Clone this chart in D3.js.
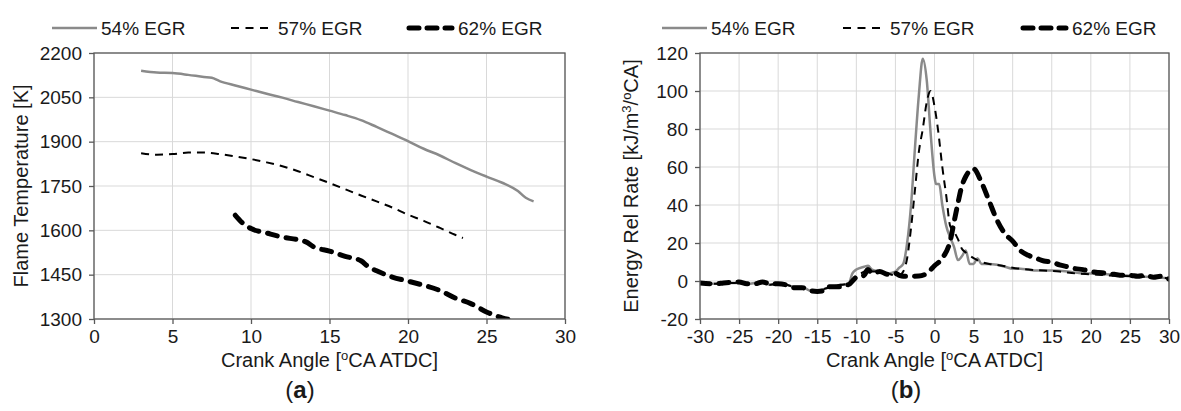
<!DOCTYPE html>
<html>
<head>
<meta charset="utf-8">
<script src="https://cdn.jsdelivr.net/npm/d3@7"></script>
<style>
  html, body { margin: 0; padding: 0; background: #fff; }
  svg { display: block; }
  text { font-family: "Liberation Sans", Arial, sans-serif; fill: #1a1a1a; }
</style>
</head>
<body>
<svg id="fig" width="1181" height="411"></svg>
<script>
// ---- Series labels ----
const seriesNames = ["54% EGR", "57% EGR", "62% EGR"];

// ---- (a) Flame temperature [K] vs crank angle [°CA ATDC] ----
const flame54 = [[3,2140],[4,2134],[5,2132],[6,2126],[7,2119],[7.5,2116],[8,2105],[9,2090],[10,2076],
  [11,2062],[12,2049],[13,2034],[14,2020],[15,2005],[16,1990],[17,1973],[18,1950],[19,1926],[20,1902],
  [21,1876],[22,1854],[23,1828],[24,1804],[25,1782],[26,1761],[27,1733],[27.5,1710],[28,1698]];
const flame57 = [[3,1861],[4,1856],[5,1858],[6,1863],[7,1863],[8,1858],[9,1850],[10,1841],[11,1830],
  [12,1817],[13,1800],[14,1780],[15,1760],[16,1739],[17,1718],[18,1698],[19,1677],[20,1653],[21,1632],
  [22,1609],[23,1585],[23.5,1574]];
const flame62 = [[9,1651],[9.5,1623],[10,1606],[11,1591],[12,1577],[13,1568],[13.5,1561],[14,1544],
  [15,1530],[16,1512],[17,1497],[17.5,1476],[18,1463],[19,1442],[20,1428],[21,1414],[22,1397],
  [23,1371],[24,1352],[25,1324],[26,1304],[26.8,1296]];
const flameXTicks = [0,5,10,15,20,25,30];
const flameYTicks = [1300,1450,1600,1750,1900,2050,2200];

// ---- (b) Energy release rate [kJ/m3/°CA] vs crank angle [°CA ATDC] ----
const err54 = [[-30,-1],[-28,-1.5],[-26,-1],[-25,-1],[-24,-1.5],[-22,-0.5],[-21,-2],[-20,-1.5],[-19,-2],
  [-18,-3],[-17,-3],[-16,-5],[-15,-5.5],[-14,-4],[-13,-3],[-12,-2],[-11,-1.5],[-10.5,4],[-10,6],
  [-9,7.5],[-8.5,8],[-8,6],[-7,5],[-6,4],[-5,5],[-4.5,7],[-4,9],[-3.5,20],[-3,40],[-2.5,70],
  [-2,98],[-1.5,117],[-1,106],[-0.5,78],[0,55],[0.2,51],[0.6,51],[1,40],[1.5,29],[2,23],[2.5,18],
  [3,11],[3.5,13],[4,16],[4.5,9],[5,9],[5.5,12],[6,9],[7,9],[8,8.5],[9,7.5],[10,6.5],[11,6.5],
  [12,6],[13,5.5],[15,5.5],[17,5],[19,4],[20,4],[22,3.5],[24,3],[26,2.5],[28,2],[30,1.5]];
const err57 = [[-30,-1],[-28,-1.5],[-26,-1],[-25,-1],[-24,-1.5],[-22,-0.5],[-21,-2],[-20,-1.5],[-19,-2],
  [-18,-3],[-17,-3.5],[-16,-5],[-15,-5.5],[-14,-4],[-13,-3],[-12,-2],[-11,-1.5],[-10,3],[-9,5],
  [-8.5,7],[-8,5],[-7,5],[-6,4],[-5,3],[-4.5,3],[-4,5],[-3.5,12],[-3,28],[-2.5,48],[-2,68],
  [-1.5,80],[-1,94],[-0.5,100],[0,92],[0.5,78],[1,60],[1.5,45],[2,29],[2.5,26],[3,22],[3.5,17],
  [4,15],[5,12],[6,10],[7,9],[8,8.5],[10,7],[12,6],[14,5.5],[16,5],[18,4],[20,3.5],[22,3],
  [25,2.5],[28,2],[30,1.5]];
const err62 = [[-30,-1],[-28,-1.5],[-27,-1],[-25,-0.5],[-24,-1.5],[-23,-1.5],[-22,-0.5],[-21,-1.5],
  [-20,-1.5],[-19,-2],[-18,-3.5],[-17,-3.5],[-16,-5],[-15,-5.5],[-14,-5],[-13.5,-3],[-13,-3],
  [-12,-3],[-11.5,-2],[-11,-2],[-10.5,0],[-10,2],[-9,3],[-8.5,6],[-8,4],[-7,5],[-6,3.5],[-5,4],
  [-4.5,3],[-4,2.5],[-3,2.5],[-2,2.6],[-1,4],[0,8],[1,12],[2,21],[2.5,31],[3,41],[3.5,50],[4,55],
  [5,59],[6,52],[7,42],[8,32],[9,25],[10,21],[11,16],[12,13.5],[13,12],[14,10.5],[15,10],[16,8.5],
  [17,7.5],[18,6.5],[19,6],[20,5],[21,4.5],[22,4],[23,3.5],[24,3],[25,3],[26,2.5],[27,3],[28,2],
  [29,2.5],[30,1]];
const errXTicks = [-30,-25,-20,-15,-10,-5,0,5,10,15,20,25,30];
const errYTicks = [-20,0,20,40,60,80,100,120];

// ---- Line styles for the three EGR levels ----
const styles = [
  { stroke: "#8a8a8a", width: 2.5, dash: null, cap: "butt" },
  { stroke: "#000",    width: 2,   dash: "8,6", cap: "butt" },
  { stroke: "#000",    width: 5,   dash: "10,9", cap: "round" }
];

// plain integer labels with an ASCII hyphen for negatives
const plainFormat = d => String(d);

const svg = d3.select("#fig");

function drawPanel(cfg) {
  const { left, top, width, height, xDomain, yDomain, xTicks, yTicks, series,
          yTitle, panelLabel, panelX, legendX, clipId } = cfg;
  const x = d3.scaleLinear().domain(xDomain).range([left, left + width]);
  const y = d3.scaleLinear().domain(yDomain).range([top + height, top]);
  const g = svg.append("g");

  // gridlines
  g.append("g").selectAll("line").data(xTicks).join("line")
    .attr("x1", d => x(d)).attr("x2", d => x(d))
    .attr("y1", top).attr("y2", top + height)
    .attr("stroke", "#d9d9d9").attr("stroke-width", 1);
  g.append("g").selectAll("line").data(yTicks).join("line")
    .attr("x1", left).attr("x2", left + width)
    .attr("y1", d => y(d)).attr("y2", d => y(d))
    .attr("stroke", "#d9d9d9").attr("stroke-width", 1);

  // clip region
  svg.append("clipPath").attr("id", clipId).append("rect")
    .attr("x", left).attr("y", top).attr("width", width).attr("height", height);

  const line = d3.line().x(d => x(d[0])).y(d => y(d[1])).curve(d3.curveMonotoneX);
  const lines = g.append("g").attr("clip-path", `url(#${clipId})`);
  series.forEach((s, i) => {
    const st = styles[i];
    lines.append("path").datum(s)
      .attr("d", line).attr("fill", "none")
      .attr("stroke", st.stroke).attr("stroke-width", st.width)
      .attr("stroke-dasharray", st.dash).attr("stroke-linecap", st.cap)
      .attr("stroke-linejoin", "round");
  });

  // frame
  g.append("rect").attr("x", left).attr("y", top).attr("width", width).attr("height", height)
    .attr("fill", "none").attr("stroke", "#595959").attr("stroke-width", 1.3);

  // axes
  const xAxis = d3.axisBottom(x).tickValues(xTicks).tickFormat(plainFormat)
    .tickSize(5).tickPadding(6).tickSizeOuter(0);
  const yAxis = d3.axisLeft(y).tickValues(yTicks).tickFormat(plainFormat)
    .tickSize(5).tickPadding(7).tickSizeOuter(0);
  const gx = g.append("g").attr("transform", `translate(0,${top + height})`).call(xAxis);
  const gy = g.append("g").attr("transform", `translate(${left},0)`).call(yAxis);
  [gx, gy].forEach(a => {
    a.select(".domain").remove();
    a.selectAll(".tick line").attr("stroke", "#595959").attr("stroke-width", 1.3);
    a.selectAll(".tick text").attr("font-size", 19)
      .attr("font-family", "Liberation Sans, Arial, sans-serif").attr("fill", "#1a1a1a");
  });

  // x axis title with superscript
  const xt = g.append("text").attr("x", left + width / 2).attr("y", top + height + 48)
    .attr("text-anchor", "middle").attr("font-size", 20);
  xt.append("tspan").text("Crank Angle [");
  xt.append("tspan").attr("font-size", 13).attr("dy", -7).text("o");
  xt.append("tspan").attr("dy", 7).text("CA ATDC]");

  // y axis title
  const yt = g.append("text")
    .attr("transform", `translate(${cfg.yTitleX},${top + height / 2}) rotate(-90)`)
    .attr("text-anchor", "middle").attr("font-size", 20);
  yTitle(yt);

  // panel label "(a)" / "(b)"
  const pl = g.append("text").attr("x", panelX).attr("y", top + height + 79)
    .attr("text-anchor", "middle").attr("font-size", 24)
    .attr("font-family", "Liberation Serif, 'Times New Roman', serif");
  pl.append("tspan").text("(");
  pl.append("tspan").attr("font-weight", "bold").text(panelLabel);
  pl.append("tspan").text(")");

  // legend
  const ly = 28;
  const legendItems = [
    { x0: legendX[0], x1: legendX[0] + 45 },
    { x0: legendX[1], x1: legendX[1] + 43 },
    { x0: legendX[2], x1: legendX[2] + 47 }
  ];
  legendItems.forEach((it, i) => {
    const st = styles[i];
    g.append("line").attr("x1", it.x0 + (i === 2 ? 2 : 0)).attr("x2", it.x1 - (i === 2 ? 2 : 0))
      .attr("y1", ly).attr("y2", ly)
      .attr("stroke", st.stroke).attr("stroke-width", st.width)
      .attr("stroke-dasharray", i === 1 ? "8,6.5" : (i === 2 ? "10,8" : null))
      .attr("stroke-linecap", st.cap);
    g.append("text").attr("x", it.x1 + 4).attr("y", ly + 7)
      .attr("font-size", 19).text(seriesNames[i]);
  });
}

drawPanel({
  left: 94, top: 53, width: 471, height: 266,
  xDomain: [0, 30], yDomain: [1300, 2200],
  xTicks: flameXTicks, yTicks: flameYTicks,
  series: [flame54, flame57, flame62],
  yTitleX: 28,
  yTitle: t => t.text("Flame Temperature [K]"),
  panelLabel: "a", panelX: 300,
  legendX: [52, 231, 407],
  clipId: "clipA"
});

drawPanel({
  left: 700, top: 53, width: 469, height: 266,
  xDomain: [-30, 30], yDomain: [-20, 120],
  xTicks: errXTicks, yTicks: errYTicks,
  series: [err54, err57, err62],
  yTitleX: 638,
  yTitle: t => {
    t.append("tspan").text("Energy Rel Rate [kJ/m");
    t.append("tspan").attr("font-size", 13).attr("dy", -7).text("3");
    t.append("tspan").attr("dy", 7).text("/");
    t.append("tspan").attr("font-size", 13).attr("dy", -7).text("o");
    t.append("tspan").attr("dy", 7).text("CA]");
  },
  panelLabel: "b", panelX: 906,
  legendX: [662, 843, 1021],
  clipId: "clipB"
});
</script>
</body>
</html>
